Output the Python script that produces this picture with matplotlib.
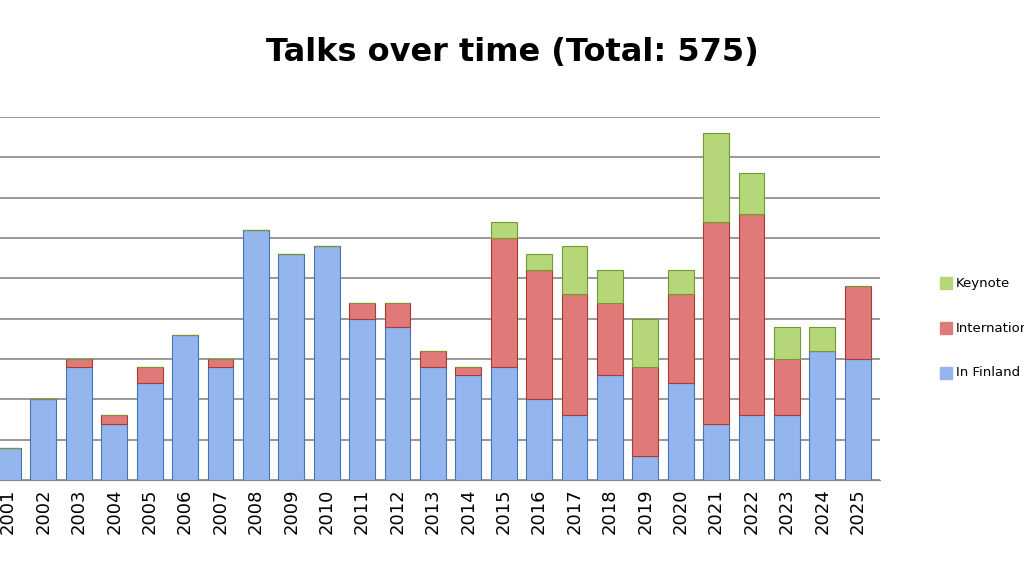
import matplotlib
matplotlib.use("Agg")
import matplotlib.pyplot as plt
import numpy as np

years = [str(y) for y in range(2001, 2026)]
in_finland = [4,10,14,7,12,18,14,31,28,29,20,19,14,13,14,10,8,13,3,12,7,8,8,16,15]
international = [0,0,1,1,2,0,1,0,0,0,2,3,2,1,16,16,15,9,11,11,25,25,7,0,9]
keynote = [0,0,0,0,0,0,0,0,0,0,0,0,0,0,2,2,6,4,6,3,11,5,4,3,0]
title = "Talks over time (Total: 575)"

fig = plt.figure(figsize=(10.24, 5.76), dpi=100)
ax = fig.add_axes([0, 1-480/576, 880/1024, (480-117)/576])
x = np.arange(len(years))
w = 0.73
b1 = np.array(in_finland); b2 = np.array(international); b3 = np.array(keynote)
ax.bar(x, b1, w, color="#93b6ee", edgecolor="#4a72b8", linewidth=0.8, zorder=3)
ax.bar(x, b2, w, bottom=b1, color="#e07a78", edgecolor="#a83a38", linewidth=0.8, zorder=3)
ax.bar(x, b3, w, bottom=b1+b2, color="#b5d77a", edgecolor="#6f9a2e", linewidth=0.8, zorder=3)
ax.set_ylim(0, 45)
ax.set_xlim(-0.226, 24.63)
ax.set_yticks(np.arange(0, 46, 5))
ax.yaxis.grid(True, color="#888888", linewidth=1.2, zorder=0)
ax.tick_params(axis="y", left=False, labelleft=False)
ax.tick_params(axis="x", length=0, pad=6)
ax.set_xticks(x)
ax.set_xticklabels(years, rotation=90, fontsize=13)
for s in ["top", "right", "left"]:
    ax.spines[s].set_visible(False)
ax.spines["bottom"].set_color("#888888")
fig.text(0.5, 1-52/576, title, ha="center", va="center", fontsize=23, fontweight="bold")
leg = [("Keynote", "#b5d77a", 283), ("International", "#e07a78", 328), ("In Finland", "#93b6ee", 373)]
for lab, c, yp in leg:
    fig.patches.append(plt.Rectangle((940/1024, 1-(yp+6)/576), 12/1024, 12/576,
                                     transform=fig.transFigure, color=c, figure=fig))
    fig.text(956/1024, 1-yp/576, lab, ha="left", va="center", fontsize=9.5)
fig.savefig("out.png", dpi=100)
